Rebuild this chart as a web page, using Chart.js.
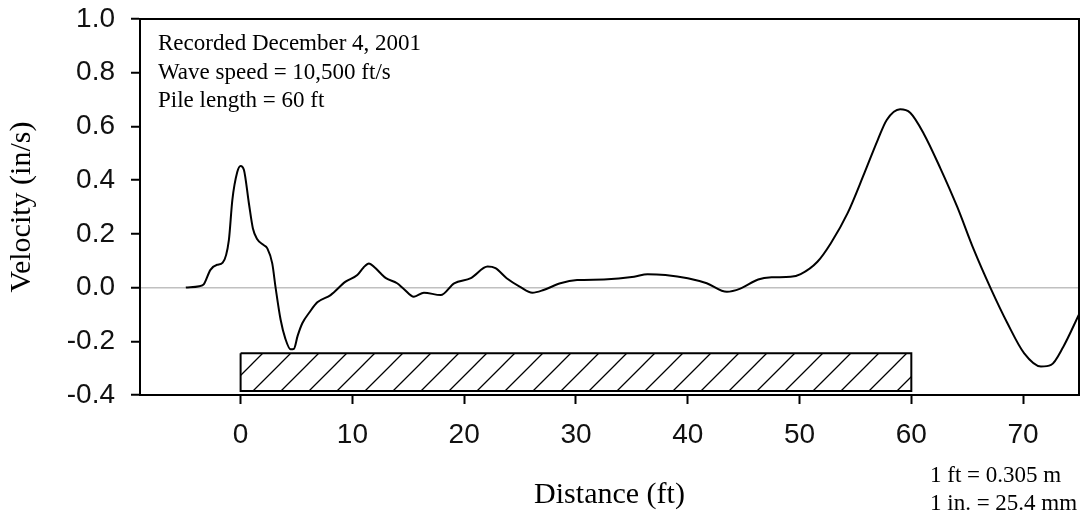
<!DOCTYPE html>
<html>
<head>
<meta charset="utf-8">
<script src="https://cdn.jsdelivr.net/npm/chart.js@4.4.0/dist/chart.umd.min.js"></script>
<style>
  body { margin: 0; background: #fff; }
  canvas { display: block; }
</style>
</head>
<body>
<canvas id="myChart" width="1088" height="514"></canvas>
<script>
// velocity trace
const distance = [
  -4.9, -3.7, -3.3, -2.7, -2.1, -1.6, -1.05, -0.74, -0.3, 0, 0.3, 0.74, 1.1, 1.49, 2.0,
  2.39, 2.83, 3.13, 3.58, 4.0, 4.47, 4.77, 5.1, 5.52, 6.2, 6.86, 8.05, 9.39, 10.44, 11.0,
  11.48, 12.0, 12.52, 13.0, 14.0, 14.6, 15.5, 16.4, 17.9, 19.1, 20.6, 22.1, 22.8, 23.8,
  25.0, 26.1, 27.1, 28.6, 30.1, 32.5, 35.2, 36.4, 38.0, 40.0, 41.7, 43.5, 44.7, 46.3,
  47.5, 49.2, 50.1, 51.6, 52.8, 54.3, 55.8, 57.0, 57.8, 59.0, 59.9, 61.1, 62.6, 64.1,
  65.6, 67.1, 68.6, 70.1, 71.6, 72.5, 73.6, 75.0
];
const velocity = [
  0, 0.005, 0.012, 0.066, 0.085, 0.093, 0.177, 0.326, 0.43, 0.453, 0.438, 0.314, 0.22, 0.18, 0.16,
  0.146, 0.09, 0.0, -0.12, -0.19, -0.23, -0.228, -0.18, -0.133, -0.09, -0.055, -0.028, 0.022, 0.047, 0.075,
  0.09, 0.075, 0.053, 0.035, 0.016, -0.005, -0.034, -0.019, -0.028, 0.016, 0.035, 0.078, 0.072, 0.035,
  0.003, -0.019, -0.009, 0.016, 0.028, 0.03, 0.04, 0.05, 0.047, 0.035, 0.016, -0.016, -0.004, 0.03,
  0.038, 0.04, 0.05, 0.096, 0.165, 0.277, 0.426, 0.55, 0.624, 0.664, 0.651, 0.574, 0.444, 0.301,
  0.14, -0.003, -0.133, -0.245, -0.294, -0.288, -0.22, -0.1
];

// pile sketch under the trace
const pileFrom = 0;
const pileTo = 60;
const pileTop = -0.245;
const pileBottom = -0.385;

const xTicks = [0, 10, 20, 30, 40, 50, 60, 70];
const yTicks = [-0.4, -0.2, 0.0, 0.2, 0.4, 0.6, 0.8, 1.0];

const notes = ["Recorded December 4, 2001", "Wave speed = 10,500 ft/s", "Pile length = 60 ft"];
const units = ["1 ft = 0.305 m", "1 in. = 25.4 mm"];

function hatch() {
  const s = 28;
  const c = document.createElement("canvas");
  c.width = s;
  c.height = s;
  const g = c.getContext("2d");
  g.strokeStyle = "#000";
  g.lineWidth = 1.3;
  g.beginPath();
  g.moveTo(0, s);
  g.lineTo(s, 0);
  g.moveTo(-2, 2);
  g.lineTo(2, -2);
  g.moveTo(s - 2, s + 2);
  g.lineTo(s + 2, s - 2);
  g.stroke();
  return g.createPattern(c, "repeat");
}

const pileShape = [
  { x: pileFrom, y: pileTop },
  { x: pileTo, y: pileTop },
  { x: pileTo, y: pileBottom },
  { x: pileFrom, y: pileBottom },
  { x: pileFrom, y: pileTop },
];

// frame + text notes
const extras = {
  id: "extras",
  afterDraw(chart) {
    const { ctx, chartArea: a } = chart;
    ctx.save();
    ctx.strokeStyle = "#000";
    ctx.lineWidth = 2;
    ctx.strokeRect(a.left, a.top, a.right - a.left, a.bottom - a.top);
    ctx.fillStyle = "#000";
    ctx.font = "23px 'Liberation Serif', 'Times New Roman', serif";
    ctx.textBaseline = "alphabetic";
    notes.forEach((t, i) => ctx.fillText(t, a.left + 18, a.top + 31 + i * 28.5));
    units.forEach((t, i) => ctx.fillText(t, a.right - 149, a.bottom + 87 + i * 28));
    ctx.restore();
  },
};

const ctx = document.getElementById("myChart");

new Chart(ctx, {
  type: "line",
  data: {
    datasets: [
      {
        label: "Velocity",
        data: distance.map((d, i) => ({ x: d, y: velocity[i] })),
        borderColor: "#000",
        borderWidth: 2,
        pointRadius: 0,
        cubicInterpolationMode: "monotone",
        fill: false,
      },
      {
        label: "Pile",
        data: pileShape,
        borderColor: "#000",
        borderWidth: 2,
        pointRadius: 0,
        tension: 0,
        fill: "shape",
        backgroundColor: hatch(),
      },
    ],
  },
  options: {
    responsive: false,
    animation: false,
    layout: { padding: { top: 19, right: 9, left: 0, bottom: 0 } },
    plugins: { legend: { display: false }, tooltip: { enabled: false } },
    scales: {
      x: {
        type: "linear",
        min: -9,
        max: 75,
        afterBuildTicks: (s) => { s.ticks = xTicks.map((v) => ({ value: v })); },
        afterFit: (s) => { s.height = 119; s.paddingLeft = 0; s.paddingRight = 0; },
        border: { color: "#000", width: 2 },
        grid: { drawOnChartArea: false, tickLength: 9, tickColor: "#000", tickWidth: 2 },
        ticks: {
          color: "#111",
          padding: 14,
          maxRotation: 0,
          font: { family: "'Liberation Sans', Arial, sans-serif", size: 28 },
        },
        title: {
          display: true,
          text: "Distance (ft)",
          color: "#000",
          padding: { top: 0, bottom: 1 },
          font: { family: "'Liberation Serif', 'Times New Roman', serif", size: 30 },
        },
      },
      y: {
        min: -0.4,
        max: 1.0,
        afterBuildTicks: (s) => { s.ticks = yTicks.map((v) => ({ value: v })); },
        afterFit: (s) => { s.width = 140; s.paddingTop = 0; s.paddingBottom = 0; },
        border: { color: "#000", width: 2 },
        grid: {
          color: (c) => (c.tick && c.tick.value === 0 ? "#c0c0c0" : "rgba(0,0,0,0)"),
          lineWidth: 1.5,
          tickLength: 9,
          tickColor: "#000",
          tickWidth: 2,
        },
        ticks: {
          color: "#111",
          padding: 16,
          callback: (v) => Number(v).toFixed(1),
          font: { family: "'Liberation Sans', Arial, sans-serif", size: 28 },
        },
        title: {
          display: true,
          text: "Velocity (in/s)",
          color: "#000",
          padding: { top: 4, bottom: 0 },
          font: { family: "'Liberation Serif', 'Times New Roman', serif", size: 30 },
        },
      },
    },
  },
  plugins: [extras],
});
</script>
</body>
</html>
